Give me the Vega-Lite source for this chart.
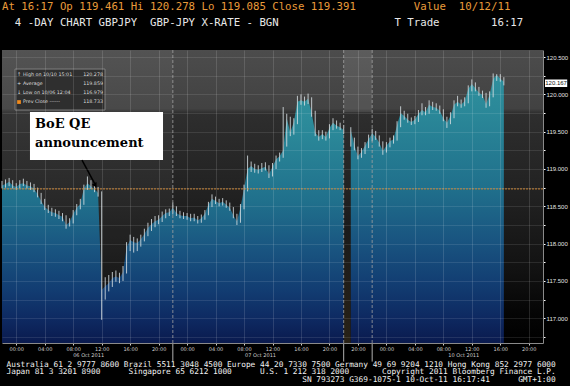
{
"$schema": "https://vega.github.io/schema/vega-lite/v6.json",
"width": 541, "height": 293,
"autosize": {"type": "none"},
"padding": {"left": 2, "top": 50, "right": 27, "bottom": 43},
"background": "#000000",
"config": {"view": {"stroke": null}},
"title": {
 "text": "At 16:17 Op 119.461 Hi 120.278 Lo 119.085 Close 119.391\u00a0\u00a0\u00a0\u00a0\u00a0\u00a0\u00a0\u00a0\u00a0Value\u00a0\u00a010/12/11",
 "subtitle": "\u200b\u00a0\u00a04 -DAY CHART GBPJPY\u00a0\u00a0GBP-JPY X-RATE - BGN\u00a0\u00a0\u00a0\u00a0\u00a0\u00a0\u00a0\u00a0\u00a0\u00a0\u00a0\u00a0\u00a0\u00a0\u00a0\u00a0\u00a0\u00a0T Trade\u00a0\u00a0\u00a0\u00a0\u00a0\u00a0\u00a0\u00a016:17",
 "anchor": "start", "frame": "group", "orient": "top", "offset": 21,
 "font": "DejaVu Sans Mono", "fontSize": 10.7, "fontWeight": "normal", "color": "#e99b3a",
 "subtitleFont": "DejaVu Sans Mono", "subtitleFontSize": 10.7, "subtitleColor": "#e8e8e8", "subtitlePadding": 5
},
"datasets": {
 "px": [
  {"t":0,"s":1,"c":118.78,"h":118.84,"l":118.74},
  {"t":0.5,"s":1,"c":118.80,"h":118.86,"l":118.75},
  {"t":1,"s":1,"c":118.83,"h":118.88,"l":118.77},
  {"t":1.5,"s":1,"c":118.78,"h":118.85,"l":118.74},
  {"t":2,"s":1,"c":118.76,"h":118.81,"l":118.72},
  {"t":2.5,"s":1,"c":118.80,"h":118.85,"l":118.74},
  {"t":3,"s":1,"c":118.81,"h":118.87,"l":118.77},
  {"t":3.5,"s":1,"c":118.78,"h":118.84,"l":118.74},
  {"t":4,"s":1,"c":118.77,"h":118.82,"l":118.72},
  {"t":4.5,"s":1,"c":118.74,"h":118.80,"l":118.69},
  {"t":5,"s":1,"c":118.66,"h":118.75,"l":118.62},
  {"t":5.5,"s":1,"c":118.57,"h":118.68,"l":118.53},
  {"t":6,"s":1,"c":118.49,"h":118.60,"l":118.45},
  {"t":6.5,"s":1,"c":118.45,"h":118.52,"l":118.41},
  {"t":7,"s":1,"c":118.42,"h":118.48,"l":118.37},
  {"t":7.5,"s":1,"c":118.41,"h":118.46,"l":118.36},
  {"t":8,"s":1,"c":118.38,"h":118.44,"l":118.33},
  {"t":8.5,"s":1,"c":118.36,"h":118.41,"l":118.30},
  {"t":9,"s":1,"c":118.25,"h":118.38,"l":118.20},
  {"t":9.5,"s":1,"c":118.29,"h":118.34,"l":118.23},
  {"t":10,"s":1,"c":118.40,"h":118.45,"l":118.27},
  {"t":10.5,"s":1,"c":118.48,"h":118.53,"l":118.38},
  {"t":11,"s":1,"c":118.53,"h":118.60,"l":118.46},
  {"t":11.5,"s":1,"c":118.74,"h":118.79,"l":118.52},
  {"t":12,"s":1,"c":118.81,"h":118.90,"l":118.72},
  {"t":12.5,"s":1,"c":118.77,"h":118.85,"l":118.73},
  {"t":13,"s":1,"c":118.73,"h":118.80,"l":118.69},
  {"t":13.5,"s":1,"c":118.68,"h":118.76,"l":118.63},
  {"t":14,"s":1,"c":117.38,"h":118.70,"l":116.98},
  {"t":14.5,"s":1,"c":117.43,"h":117.55,"l":117.25},
  {"t":15,"s":1,"c":117.47,"h":117.58,"l":117.36},
  {"t":15.5,"s":1,"c":117.54,"h":117.62,"l":117.42},
  {"t":16,"s":1,"c":117.56,"h":117.64,"l":117.49},
  {"t":16.5,"s":1,"c":117.54,"h":117.61,"l":117.47},
  {"t":17,"s":1,"c":117.62,"h":117.70,"l":117.50},
  {"t":17.5,"s":1,"c":117.95,"h":118.02,"l":117.60},
  {"t":18,"s":1,"c":118.05,"h":118.12,"l":117.90},
  {"t":18.5,"s":1,"c":118.02,"h":118.09,"l":117.88},
  {"t":19,"s":1,"c":118.01,"h":118.07,"l":117.90},
  {"t":19.5,"s":1,"c":118.06,"h":118.12,"l":117.96},
  {"t":20,"s":1,"c":118.13,"h":118.20,"l":118.03},
  {"t":20.5,"s":1,"c":118.21,"h":118.28,"l":118.10},
  {"t":21,"s":1,"c":118.26,"h":118.33,"l":118.17},
  {"t":21.5,"s":1,"c":118.30,"h":118.37,"l":118.22},
  {"t":22,"s":1,"c":118.32,"h":118.38,"l":118.26},
  {"t":22.5,"s":1,"c":118.37,"h":118.43,"l":118.29},
  {"t":23,"s":1,"c":118.41,"h":118.46,"l":118.34},
  {"t":23.5,"s":1,"c":118.42,"h":118.47,"l":118.37},
  {"t":24,"s":1,"c":118.48,"h":118.55,"l":118.39},
  {"t":24.5,"s":1,"c":118.41,"h":118.50,"l":118.37},
  {"t":25,"s":1,"c":118.38,"h":118.44,"l":118.34},
  {"t":25.5,"s":1,"c":118.37,"h":118.42,"l":118.33},
  {"t":26,"s":1,"c":118.37,"h":118.41,"l":118.32},
  {"t":26.5,"s":1,"c":118.34,"h":118.40,"l":118.30},
  {"t":27,"s":1,"c":118.35,"h":118.40,"l":118.30},
  {"t":27.5,"s":1,"c":118.31,"h":118.37,"l":118.27},
  {"t":28,"s":1,"c":118.34,"h":118.39,"l":118.28},
  {"t":28.5,"s":1,"c":118.40,"h":118.45,"l":118.32},
  {"t":29,"s":1,"c":118.52,"h":118.56,"l":118.38},
  {"t":29.5,"s":1,"c":118.60,"h":118.66,"l":118.49},
  {"t":30,"s":1,"c":118.57,"h":118.63,"l":118.53},
  {"t":30.5,"s":1,"c":118.54,"h":118.60,"l":118.50},
  {"t":31,"s":1,"c":118.56,"h":118.61,"l":118.51},
  {"t":31.5,"s":1,"c":118.52,"h":118.58,"l":118.48},
  {"t":32,"s":1,"c":118.48,"h":118.55,"l":118.44},
  {"t":32.5,"s":1,"c":118.38,"h":118.49,"l":118.34},
  {"t":33,"s":1,"c":118.30,"h":118.40,"l":118.25},
  {"t":33.5,"s":1,"c":118.48,"h":118.53,"l":118.28},
  {"t":34,"s":1,"c":118.74,"h":118.79,"l":118.46},
  {"t":34.5,"s":1,"c":119.00,"h":119.18,"l":118.70},
  {"t":35,"s":1,"c":119.04,"h":119.10,"l":118.96},
  {"t":35.5,"s":1,"c":119.00,"h":119.07,"l":118.95},
  {"t":36,"s":1,"c":118.99,"h":119.05,"l":118.94},
  {"t":36.5,"s":1,"c":119.01,"h":119.08,"l":118.96},
  {"t":37,"s":1,"c":119.03,"h":119.09,"l":118.98},
  {"t":37.5,"s":1,"c":118.93,"h":119.05,"l":118.88},
  {"t":38,"s":1,"c":119.03,"h":119.08,"l":118.90},
  {"t":38.5,"s":1,"c":119.13,"h":119.18,"l":119.00},
  {"t":39,"s":1,"c":119.17,"h":119.22,"l":119.10},
  {"t":39.5,"s":1,"c":119.25,"h":119.83,"l":119.15},
  {"t":40,"s":1,"c":119.68,"h":119.74,"l":119.30},
  {"t":40.5,"s":1,"c":119.49,"h":119.70,"l":119.44},
  {"t":41,"s":1,"c":119.63,"h":119.68,"l":119.46},
  {"t":41.5,"s":1,"c":119.90,"h":119.98,"l":119.60},
  {"t":42,"s":1,"c":119.92,"h":120.00,"l":119.86},
  {"t":42.5,"s":1,"c":119.90,"h":119.97,"l":119.85},
  {"t":43,"s":1,"c":119.94,"h":120.01,"l":119.87},
  {"t":43.5,"s":1,"c":119.75,"h":119.96,"l":119.70},
  {"t":44,"s":1,"c":119.49,"h":119.78,"l":119.44},
  {"t":44.5,"s":1,"c":119.43,"h":119.52,"l":119.38},
  {"t":45,"s":1,"c":119.47,"h":119.52,"l":119.40},
  {"t":45.5,"s":1,"c":119.43,"h":119.50,"l":119.38},
  {"t":46,"s":1,"c":119.55,"h":119.60,"l":119.41},
  {"t":46.5,"s":1,"c":119.62,"h":119.68,"l":119.52},
  {"t":47,"s":1,"c":119.58,"h":119.65,"l":119.54},
  {"t":47.5,"s":1,"c":119.56,"h":119.62,"l":119.52},
  {"t":48,"s":1,"c":119.52,"h":119.59,"l":119.47},
  {"t":49,"s":2,"c":119.52,"h":119.56,"l":119.30},
  {"t":49.5,"s":2,"c":119.32,"h":119.42,"l":119.25},
  {"t":50,"s":2,"c":119.17,"h":119.30,"l":119.13},
  {"t":50.5,"s":2,"c":119.23,"h":119.28,"l":119.15},
  {"t":51,"s":2,"c":119.31,"h":119.36,"l":119.20},
  {"t":51.5,"s":2,"c":119.40,"h":119.46,"l":119.28},
  {"t":52,"s":2,"c":119.48,"h":119.54,"l":119.37},
  {"t":52.5,"s":2,"c":119.43,"h":119.51,"l":119.39},
  {"t":53,"s":2,"c":119.35,"h":119.45,"l":119.30},
  {"t":53.5,"s":2,"c":119.24,"h":119.37,"l":119.19},
  {"t":54,"s":2,"c":119.31,"h":119.36,"l":119.22},
  {"t":54.5,"s":2,"c":119.37,"h":119.42,"l":119.29},
  {"t":55,"s":2,"c":119.40,"h":119.45,"l":119.34},
  {"t":55.5,"s":2,"c":119.59,"h":119.64,"l":119.38},
  {"t":56,"s":2,"c":119.75,"h":119.84,"l":119.56},
  {"t":56.5,"s":2,"c":119.71,"h":119.78,"l":119.66},
  {"t":57,"s":2,"c":119.66,"h":119.74,"l":119.62},
  {"t":57.5,"s":2,"c":119.63,"h":119.69,"l":119.59},
  {"t":58,"s":2,"c":119.66,"h":119.71,"l":119.60},
  {"t":58.5,"s":2,"c":119.74,"h":119.79,"l":119.63},
  {"t":59,"s":2,"c":119.79,"h":119.88,"l":119.72},
  {"t":59.5,"s":2,"c":119.76,"h":119.83,"l":119.72},
  {"t":60,"s":2,"c":119.86,"h":119.92,"l":119.74},
  {"t":60.5,"s":2,"c":119.83,"h":119.90,"l":119.79},
  {"t":61,"s":2,"c":119.82,"h":119.88,"l":119.78},
  {"t":61.5,"s":2,"c":119.78,"h":119.85,"l":119.74},
  {"t":62,"s":2,"c":119.68,"h":119.80,"l":119.64},
  {"t":62.5,"s":2,"c":119.62,"h":119.70,"l":119.55},
  {"t":63,"s":2,"c":119.71,"h":119.76,"l":119.60},
  {"t":63.5,"s":2,"c":119.86,"h":119.92,"l":119.68},
  {"t":64,"s":2,"c":119.90,"h":119.98,"l":119.84},
  {"t":64.5,"s":2,"c":119.86,"h":119.93,"l":119.82},
  {"t":65,"s":2,"c":119.91,"h":119.96,"l":119.84},
  {"t":65.5,"s":2,"c":120.07,"h":120.12,"l":119.88},
  {"t":66,"s":2,"c":120.14,"h":120.20,"l":120.04},
  {"t":66.5,"s":2,"c":120.08,"h":120.16,"l":120.04},
  {"t":67,"s":2,"c":120.02,"h":120.10,"l":119.98},
  {"t":67.5,"s":2,"c":119.99,"h":120.05,"l":119.95},
  {"t":68,"s":2,"c":119.87,"h":120.02,"l":119.82},
  {"t":68.5,"s":2,"c":119.99,"h":120.04,"l":119.84},
  {"t":69,"s":2,"c":120.21,"h":120.28,"l":119.96},
  {"t":69.5,"s":2,"c":120.26,"h":120.27,"l":120.18},
  {"t":70,"s":2,"c":120.21,"h":120.27,"l":120.17},
  {"t":70.5,"s":2,"c":120.17,"h":120.23,"l":120.12}
 ],
 "bounds": [{"t":24},{"t":48},{"t":52}]
},
"layer": [
 {
  "data": {"values": [{}]},
  "mark": {"type": "rect", "color": {"gradient": "linear", "x1": 0, "y1": 0, "x2": 0, "y2": 1, "stops": [
    {"offset": 0, "color": "#4c4c4c"}, {"offset": 0.2, "color": "#424242"}, {"offset": 0.215, "color": "#2e2e2e"},
    {"offset": 0.5, "color": "#212121"}, {"offset": 0.75, "color": "#121212"}, {"offset": 0.9, "color": "#050505"}, {"offset": 1, "color": "#000000"}]}},
  "encoding": {
   "x": {"datum": 0, "type": "quantitative", "scale": {"domain": [0, 76], "nice": false, "zero": false},
    "axis": {"orient": "bottom", "values": [12.1, 36.25, 64.8],
     "labelExpr": "datum.value < 24 ? '06 Oct 2011' : datum.value < 48 ? '07 Oct 2011' : '10 Oct 2011'",
     "grid": false, "ticks": false, "domain": false, "labelFont": "DejaVu Sans", "labelFontSize": 5, "labelColor": "#cfcfcf", "labelPadding": 9, "labelOverlap": false,
     "title": [
      "Australia 61 2 9777 8600 Brazil 5511 3048 4500 Europe 44 20 7330 7500 Germany 49 69 9204 1210 Hong Kong 852 2977 6000",
      "Japan 81 3 3201 8900\u00a0\u00a0\u00a0\u00a0\u00a0\u00a0Singapore 65 6212 1000\u00a0\u00a0\u00a0\u00a0\u00a0\u00a0U.S. 1 212 318 2000\u00a0\u00a0\u00a0\u00a0\u00a0\u00a0\u00a0Copyright 2011 Bloomberg Finance L.P.",
      "\u200b\u00a0\u00a0\u00a0\u00a0\u00a0\u00a0\u00a0\u00a0\u00a0\u00a0\u00a0\u00a0\u00a0\u00a0\u00a0\u00a0\u00a0\u00a0\u00a0\u00a0\u00a0\u00a0\u00a0\u00a0\u00a0\u00a0\u00a0\u00a0\u00a0\u00a0\u00a0\u00a0\u00a0\u00a0\u00a0\u00a0\u00a0\u00a0\u00a0\u00a0\u00a0\u00a0\u00a0\u00a0\u00a0\u00a0\u00a0\u00a0\u00a0\u00a0\u00a0\u00a0\u00a0\u00a0\u00a0\u00a0\u00a0\u00a0\u00a0\u00a0\u00a0\u00a0\u00a0SN 793273 G369-1075-1 10-Oct-11 16:17:41\u00a0\u00a0\u00a0\u00a0\u00a0\u00a0GMT+1:00"],
     "titleFont": "DejaVu Sans Mono", "titleFontSize": 7.8, "titleFontWeight": "normal", "titleColor": "#f2f2f2",
     "titleAnchor": "start", "titleAlign": "left", "titleBaseline": "top", "titleX": 4, "titleY": 17, "titleLineHeight": 7.6, "zindex": 1}},
   "x2": {"datum": 76},
   "y": {"datum": 116.669, "type": "quantitative", "scale": {"domain": [116.669, 120.594], "nice": false, "zero": false}, "axis": null},
   "y2": {"datum": 120.594}
  }
 },
 {
  "data": {"values": [{}]},
  "mark": {"type": "rect", "color": "#ffffff", "opacity": 0.04},
  "encoding": {"x": {"datum": 0, "axis": null}, "x2": {"datum": 24}, "y": {"datum": 116.669, "axis": null}, "y2": {"datum": 120.594}}
 },
 {
  "data": {"values": [{}]},
  "mark": {"type": "rect", "color": "#ffffff", "opacity": 0.09},
  "encoding": {"x": {"datum": 48, "axis": null}, "x2": {"datum": 52}, "y": {"datum": 119.76, "axis": null}, "y2": {"datum": 120.594}}
 },
 {
  "data": {"values": [{}]},
  "mark": {"type": "rect", "color": {"gradient": "linear", "x1": 0, "y1": 0, "x2": 0, "y2": 1, "stops": [
    {"offset": 0, "color": "#1a1a1a"}, {"offset": 1, "color": "#3a3020"}]}, "opacity": 0.7},
  "encoding": {"x": {"datum": 48, "axis": null}, "x2": {"datum": 49}, "y": {"datum": 116.669, "axis": null}, "y2": {"datum": 118.2}}
 },
 {
  "data": {"name": "px"},
  "mark": {"type": "area", "interpolate": "linear", "color": {"gradient": "linear", "x1": 0, "y1": 0, "x2": 0, "y2": 1, "stops": [
    {"offset": 0, "color": "#2f909d"}, {"offset": 0.15, "color": "#2a8798"}, {"offset": 0.42, "color": "#20708c"},
    {"offset": 0.62, "color": "#195480"}, {"offset": 0.78, "color": "#123d72"}, {"offset": 0.9, "color": "#0e2a62"}, {"offset": 1, "color": "#0a1a4e"}]}},
  "encoding": {
   "x": {"field": "t", "type": "quantitative", "scale": {"domain": [0, 76], "nice": false, "zero": false},
    "axis": {"orient": "bottom", "values": [2,6,10,14,18,22,26,30,34,38,42,46,50,54,58,62,66,70,74],
     "labelExpr": "((datum.value < 48 ? (datum.value + 22) % 24 : (datum.value - 30) % 24) < 10 ? '0' : '') + (datum.value < 48 ? (datum.value + 22) % 24 : (datum.value - 30) % 24) + ':00'",
     "title": null, "grid": true, "gridColor": "#ffffff", "gridOpacity": 0.13, "gridWidth": 1,
     "domain": true, "domainColor": "#8a8a8a", "ticks": true, "tickColor": "#cccccc", "tickSize": 2,
     "labelFont": "DejaVu Sans", "labelFontSize": 5, "labelColor": "#cfcfcf", "labelPadding": 1, "labelOverlap": false, "labelFlush": false, "zindex": 1}},
   "y": {"field": "c", "type": "quantitative", "scale": {"domain": [116.669, 120.594], "nice": false, "zero": false},
    "axis": {"orient": "right", "values": [116.75,117,117.25,117.5,117.75,118,118.25,118.5,118.75,119,119.25,119.5,119.75,120,120.25,120.5],
     "labelExpr": "datum.value % 0.5 == 0 ? format(datum.value, '.3f') : ''",
     "title": null, "grid": true, "gridColor": "#ffffff", "gridOpacity": 0.1, "gridWidth": 1,
     "domain": true, "domainColor": "#8a8a8a", "tickColor": "#ffffff", "tickSize": 2,
     "labelFont": "Liberation Sans", "labelFontSize": 6, "labelColor": "#e2e2e2", "labelPadding": 1, "labelOverlap": false, "labelFlush": false, "zindex": 1}},
   "y2": {"datum": 116.669},
   "detail": {"field": "s"}
  }
 },
 {
  "data": {"name": "px"},
  "mark": {"type": "rule", "color": "#d5dde0", "strokeWidth": 1, "opacity": 0.85},
  "encoding": {"x": {"field": "t", "type": "quantitative", "axis": null}, "y": {"field": "l", "type": "quantitative", "axis": null}, "y2": {"field": "h"}}
 },
 {
  "data": {"values": [{}]},
  "mark": {"type": "rule", "color": "#c87d28", "strokeDash": [2, 1], "strokeWidth": 1},
  "encoding": {"y": {"datum": 118.733, "axis": null}}
 },
 {
  "data": {"name": "bounds"},
  "mark": {"type": "rule", "color": "#a0a0a0", "strokeDash": [3, 2], "strokeWidth": 1, "opacity": 0.8},
  "encoding": {"x": {"field": "t", "type": "quantitative", "axis": null}}
 },
 {
  "data": {"name": "bounds"},
  "mark": {"type": "rule", "color": "#b0b0b0", "strokeWidth": 1},
  "encoding": {"x": {"field": "t", "type": "quantitative", "axis": null}, "y": {"datum": 116.669, "axis": null}, "y2": {"datum": 116.42}}
 },
 {
  "data": {"values": [{}]},
  "mark": {"type": "rect", "color": "#2a2a2a", "opacity": 0.85, "stroke": "#8a8a8a", "strokeWidth": 1},
  "encoding": {"x": {"datum": 1.83, "axis": null}, "x2": {"datum": 14.47}, "y": {"datum": 119.79, "axis": null}, "y2": {"datum": 120.339}}
 },
 {
  "data": {"values": [{}]},
  "mark": {"type": "text", "text": ["High on 10/10 15:01", "Average", "Low on 10/06 12:04", "Prev Close ------"], "font": "DejaVu Sans", "fontSize": 4.8, "lineHeight": 9, "color": "#dcdcdc", "align": "left", "baseline": "top"},
  "encoding": {"x": {"datum": 2.95, "axis": null}, "y": {"datum": 120.299, "axis": null}}
 },
 {
  "data": {"values": [{}]},
  "mark": {"type": "text", "text": ["120.278", "119.859", "116.979", "118.733"], "font": "DejaVu Sans", "fontSize": 4.8, "lineHeight": 9, "color": "#dcdcdc", "align": "right", "baseline": "top"},
  "encoding": {"x": {"datum": 14.19, "axis": null}, "y": {"datum": 120.299, "axis": null}}
 },
 {
  "data": {"values": [{}]},
  "mark": {"type": "text", "text": ["\u2191", "+", "\u2193"], "font": "DejaVu Sans", "fontSize": 5, "lineHeight": 9, "color": "#dcdcdc", "align": "center", "baseline": "top"},
  "encoding": {"x": {"datum": 2.39, "axis": null}, "y": {"datum": 120.299, "axis": null}}
 },
 {
  "data": {"values": [{}]},
  "mark": {"type": "square", "color": "#f08a1c", "size": 14, "opacity": 1},
  "encoding": {"x": {"datum": 2.39, "axis": null}, "y": {"datum": 119.897, "axis": null}}
 },
 {
  "data": {"values": [{}]},
  "mark": {"type": "rect", "color": "#ffffff"},
  "encoding": {"x": {"datum": 3.93, "axis": null}, "x2": {"datum": 22.62}, "y": {"datum": 119.12, "axis": null}, "y2": {"datum": 119.763}}
 },
 {
  "data": {"values": [{}]},
  "mark": {"type": "text", "text": ["BoE QE", "announcement"], "font": "DejaVu Serif", "fontWeight": "bold", "fontSize": 13, "lineHeight": 19, "color": "#000000", "align": "left", "baseline": "alphabetic"},
  "encoding": {"x": {"datum": 4.64, "axis": null}, "y": {"datum": 119.549, "axis": null}}
 },
 {
  "data": {"values": [{}]},
  "mark": {"type": "rule", "color": "#000000", "strokeWidth": 1.5},
  "encoding": {"x": {"datum": 11.24, "axis": null}, "x2": {"datum": 13.1}, "y": {"datum": 119.12, "axis": null}, "y2": {"datum": 118.79}}
 },
 {
  "data": {"values": [{}]},
  "mark": {"type": "point", "shape": "triangle-up", "filled": true, "color": "#000000", "opacity": 1, "size": 30, "angle": 149},
  "encoding": {"x": {"datum": 13.12, "axis": null}, "y": {"datum": 118.78, "axis": null}}
 },
 {
  "data": {"values": [{}]},
  "mark": {"type": "rect", "color": "#ffffff"},
  "encoding": {"x": {"datum": 76.28, "axis": null}, "x2": {"datum": 79.4}, "y": {"datum": 120.098, "axis": null}, "y2": {"datum": 120.199}}
 },
 {
  "data": {"values": [{}]},
  "mark": {"type": "text", "text": "120.167", "font": "Liberation Sans", "fontSize": 6, "color": "#111111", "align": "center", "baseline": "middle"},
  "encoding": {"x": {"datum": 77.84, "axis": null}, "y": {"datum": 120.148, "axis": null}}
 }
],
"resolve": {"axis": {"x": "independent", "y": "independent"}}
}
